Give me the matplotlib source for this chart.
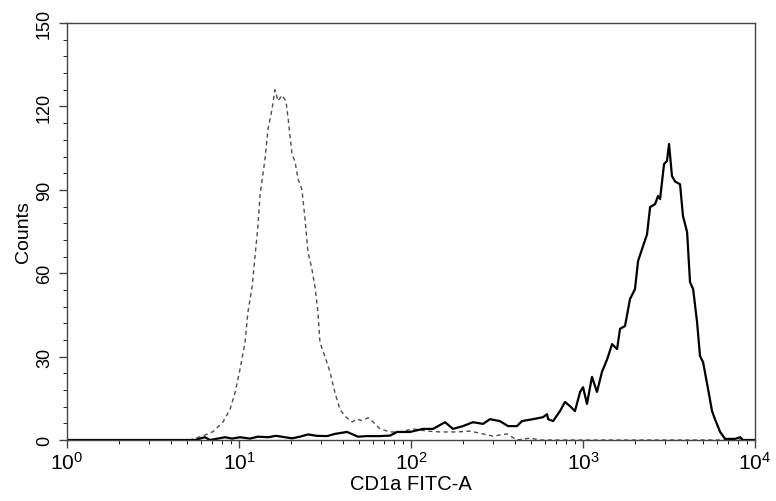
import matplotlib
matplotlib.use("Agg")
import matplotlib.pyplot as plt
import numpy as np

# Isotype control (dashed), decade position and counts
iso_log = [0.0, 0.715, 0.733, 0.791, 0.849, 0.907, 0.948, 0.977, 1.006, 1.035,
           1.052, 1.076, 1.093, 1.110, 1.122, 1.151, 1.169, 1.192, 1.209, 1.227,
           1.250, 1.273, 1.285, 1.308, 1.326, 1.343, 1.366, 1.384, 1.401, 1.424,
           1.442, 1.459, 1.471, 1.500, 1.529, 1.558, 1.587, 1.616, 1.657, 1.686,
           1.715, 1.750, 1.779, 1.820, 1.878, 1.936, 2.012, 2.093, 2.169, 2.267,
           2.343, 2.419, 2.477, 2.558, 2.616, 2.692, 2.750, 4.0]
iso_counts = [0, 0, 0.4, 1.5, 3, 6.5, 11, 17, 25.5, 35,
              46, 55, 66, 77, 88, 101, 112, 119, 126, 122,
              124, 122, 116, 103, 100, 94, 90, 79.5, 67.6, 61.5,
              55, 46, 35, 30, 24.5, 17, 11, 8.6, 6.5, 7.5,
              7, 8, 6.5, 4, 2.9, 2.9, 4, 3.2, 2.9, 2.9,
              3.2, 2.2, 1.4, 2.2, 0, 0.7, 0, 0]

# CD1a stained sample (solid)
cd1a_log = [0.0, 0.744, 0.802, 0.831, 0.919, 0.959, 1.006, 1.064, 1.110, 1.169,
            1.215, 1.267, 1.308, 1.355, 1.401, 1.453, 1.512, 1.558, 1.628, 1.692,
            1.744, 1.820, 1.878, 1.919, 1.994, 2.070, 2.128, 2.198, 2.244, 2.302,
            2.360, 2.419, 2.459, 2.517, 2.564, 2.616, 2.645, 2.709, 2.767, 2.791,
            2.797, 2.826, 2.866, 2.895, 2.924, 2.953, 2.983, 3.000, 3.023, 3.052,
            3.081, 3.110, 3.140, 3.169, 3.198, 3.215, 3.244, 3.273, 3.302, 3.320,
            3.349, 3.372, 3.390, 3.419, 3.436, 3.448, 3.471, 3.488, 3.500, 3.517,
            3.535, 3.564, 3.581, 3.605, 3.622, 3.640, 3.663, 3.680, 3.698, 3.727,
            3.750, 3.767, 3.797, 3.826, 3.884, 3.913, 3.930, 4.0]
cd1a_counts = [0, 0, 1, 0, 1, 0.5, 1, 0.5, 1.2, 1,
               1.5, 1, 0.6, 1.2, 2, 1.5, 1.4, 2.2, 2.9, 1.2,
               1.4, 1.4, 1.6, 2.9, 2.9, 4, 4, 6.4, 4, 5,
               6.4, 5.8, 7.5, 6.8, 5, 5, 6.8, 7.5, 8.2, 9.3,
               7.5, 6.8, 10.4, 13.7, 12.2, 10.4, 17.3, 19, 13, 22.7,
               17.3, 24.5, 29, 34.5, 32.7, 40, 41, 50.7, 54.3, 64.4,
               69.8, 74, 83.8, 84.9, 87.8, 86.7, 99.3, 100.4, 106.5, 95,
               93, 92, 80.6, 74.8, 56.8, 54.3, 42.4, 30.2, 28, 18.3,
               10.4, 7.5, 2.9, 0.4, 0.4, 1, 0, 0]

y_ticks = [0, 30, 60, 90, 120, 150]

plt.rcParams['font.family'] = ['Liberation Sans', 'DejaVu Sans']
plt.rcParams['mathtext.fontset'] = 'custom'
plt.rcParams['mathtext.rm'] = 'Liberation Sans'
plt.rcParams['mathtext.it'] = 'Liberation Sans'

fig = plt.figure(figsize=(7.76, 5.02), dpi=100)
ax = fig.add_axes([0.0863, 0.1215, 0.8867, 0.8305])

ax.plot(10 ** np.array(iso_log), iso_counts, color='#4d4d4d', lw=1.0,
        ls=(0, (3, 2.5)))
ax.plot(10 ** np.array(cd1a_log), cd1a_counts, color='black', lw=1.6)

ax.set_xscale('log')
ax.set_xlim(1, 1e4)
ax.set_ylim(0, 150)
ax.set_yticks(y_ticks)
ax.set_yticklabels([str(v) for v in y_ticks], rotation=90, va='center')
ax.set_yticks(np.arange(0, 151, 6), minor=True)

for s in ax.spines.values():
    s.set_color('#444444')
    s.set_linewidth(1.0)
ax.tick_params(colors='#444444', labelcolor='black', width=1.0)
ax.tick_params(axis='y', which='major', length=6, labelsize=13, pad=4)
ax.tick_params(axis='y', which='minor', length=3)
ax.tick_params(axis='x', which='major', length=6, pad=2, labelsize=15)
ax.tick_params(axis='x', which='minor', length=3)

ax.set_xlabel('CD1a FITC-A', fontsize=14.5, labelpad=1)
ax.set_ylabel('Counts', fontsize=14, labelpad=3)

fig.savefig('out.png', dpi=100)
